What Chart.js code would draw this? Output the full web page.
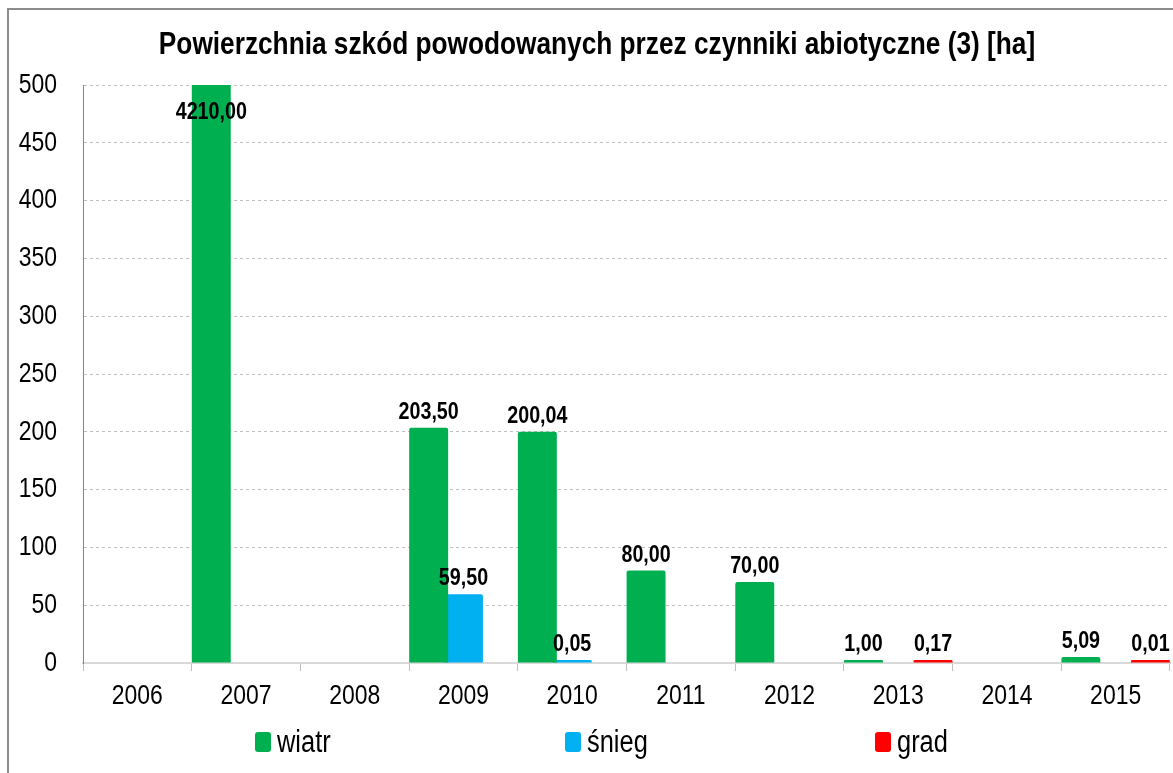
<!DOCTYPE html>
<html>
<head>
<meta charset="utf-8">
<script src="https://cdn.jsdelivr.net/npm/chart.js@4.4.1/dist/chart.umd.min.js"></script>
<style>
  html, body { margin: 0; padding: 0; background: #fff; }
</style>
</head>
<body>
<canvas id="chart" width="1173" height="773"></canvas>
<script>
// Dane wykresu
const chartTitle = 'Powierzchnia szkód powodowanych przez czynniki abiotyczne (3) [ha]';
const years = ['2006', '2007', '2008', '2009', '2010', '2011', '2012', '2013', '2014', '2015'];
const wiatr = [null, 4210.00, null, 203.50, 200.04, 80.00, 70.00, 1.00, null, 5.09];
const snieg = [null, null, null, 59.50, 0.05, null, null, null, null, null];
const grad  = [null, null, null, null, null, null, null, 0.17, null, 0.01];
const seriesNames = ['wiatr', 'śnieg', 'grad'];
const seriesColors = ['#00B050', '#00B0F0', '#FF0000'];
const yMax = 500;
const yStep = 50;

// brak Arial Narrow - zwezamy Liberation Sans recznie
const FONT = '"Liberation Sans", Arial, sans-serif';
const NARROW = 0.82;

function narrowText(ctx, txt, x, y, align) {
    ctx.save();
    ctx.translate(x, y);
    ctx.scale(NARROW, 1);
    ctx.textAlign = align;
    ctx.fillText(txt, 0, 0);
    ctx.restore();
}

// ramka wokol wykresu
const framePlugin = {
    id: 'frame',
    beforeDraw(chart) {
        const ctx = chart.ctx;
        ctx.save();
        ctx.fillStyle = '#fff';
        ctx.fillRect(0, 0, chart.width, chart.height);
        ctx.strokeStyle = '#8c8c8c';
        ctx.lineWidth = 2;
        ctx.beginPath();
        ctx.moveTo(8, chart.height);
        ctx.lineTo(8, 9);
        ctx.lineTo(chart.width, 9);
        ctx.stroke();
        ctx.restore();
    }
};

// tytul + opisy osi (waskie)
const textPlugin = {
    id: 'narrowTexts',
    afterDraw(chart) {
        const ctx = chart.ctx;
        ctx.save();
        ctx.fillStyle = '#000';
        ctx.textBaseline = 'middle';
        ctx.font = 'bold 32px ' + FONT;
        narrowText(ctx, chartTitle, 597, 45, 'center');

        ctx.font = '28px ' + FONT;
        const ys = chart.scales.y;
        ys.ticks.forEach((t, i) => {
            narrowText(ctx, String(t.value), 57, ys.getPixelForTick(i), 'right');
        });
        const xs = chart.scales.x;
        xs.ticks.forEach((t, i) => {
            narrowText(ctx, years[t.value], xs.getPixelForTick(i), 696, 'center');
        });
        ctx.restore();
    }
};

// etykiety wartosci nad slupkami
const valueLabels = {
    id: 'valueLabels',
    afterDatasetsDraw(chart) {
        const ctx = chart.ctx;
        const area = chart.chartArea;
        ctx.save();
        ctx.font = 'bold 24px ' + FONT;
        ctx.fillStyle = '#000';
        chart.data.datasets.forEach((ds, i) => {
            const meta = chart.getDatasetMeta(i);
            meta.data.forEach((bar, j) => {
                const v = ds.data[j];
                if (v === null) return;
                const txt = v.toFixed(2).replace('.', ',');
                if (v > yMax) {
                    ctx.textBaseline = 'middle';
                    narrowText(ctx, txt, bar.x, area.top + 27, 'center');
                } else {
                    ctx.textBaseline = 'alphabetic';
                    narrowText(ctx, txt, bar.x, Math.min(bar.y, area.bottom - 3) - 9, 'center');
                }
            });
        });
        ctx.restore();
    }
};

// legenda na dole
const bottomLegend = {
    id: 'bottomLegend',
    afterDraw(chart) {
        const ctx = chart.ctx;
        const y = 742;
        ctx.save();
        ctx.font = '31px ' + FONT;
        ctx.textBaseline = 'middle';
        chart.data.datasets.forEach((ds, i) => {
            const x = 255 + i * 310;
            ctx.fillStyle = ds.backgroundColor;
            ctx.beginPath();
            ctx.roundRect(x, y - 10, 16, 20, 3);
            ctx.fill();
            ctx.fillStyle = '#000';
            narrowText(ctx, ds.label, x + 22, y + 1, 'left');
        });
        ctx.restore();
    }
};

const datasets = [wiatr, snieg, grad].map((d, i) => ({
    label: seriesNames[i],
    data: d,
    backgroundColor: seriesColors[i],
    borderRadius: 2,
    minBarLength: 3,
    categoryPercentage: 0.96,
    barPercentage: 1.12
}));

new Chart(document.getElementById('chart'), {
    type: 'bar',
    data: { labels: years, datasets: datasets },
    options: {
        responsive: false,
        animation: false,
        devicePixelRatio: 1,
        layout: { padding: { top: 85, left: 0, right: 3, bottom: 63 } },
        plugins: {
            legend: { display: false },
            title: { display: false },
            tooltip: { enabled: false }
        },
        scales: {
            x: {
                grid: { offset: true, drawOnChartArea: false, drawTicks: true, tickLength: 8, color: '#bfbfbf' },
                border: { color: '#d9d9d9', width: 2 },
                ticks: { color: 'rgba(0,0,0,0)', font: { family: FONT, size: 28 }, padding: 4, maxRotation: 0 },
                afterFit(scale) { scale.height = 47; }
            },
            y: {
                min: 0,
                max: yMax,
                grid: {
                    drawTicks: false,
                    color: c => c.tick.value === 0 ? 'rgba(0,0,0,0)' : '#c0c0c0'
                },
                border: { color: '#868686', width: 1, dash: [3, 3] },
                ticks: { stepSize: yStep, color: 'rgba(0,0,0,0)', font: { family: FONT, size: 28 }, padding: 26 },
                afterFit(scale) { scale.width = 83; }
            }
        }
    },
    plugins: [framePlugin, textPlugin, valueLabels, bottomLegend]
});
</script>
</body>
</html>
